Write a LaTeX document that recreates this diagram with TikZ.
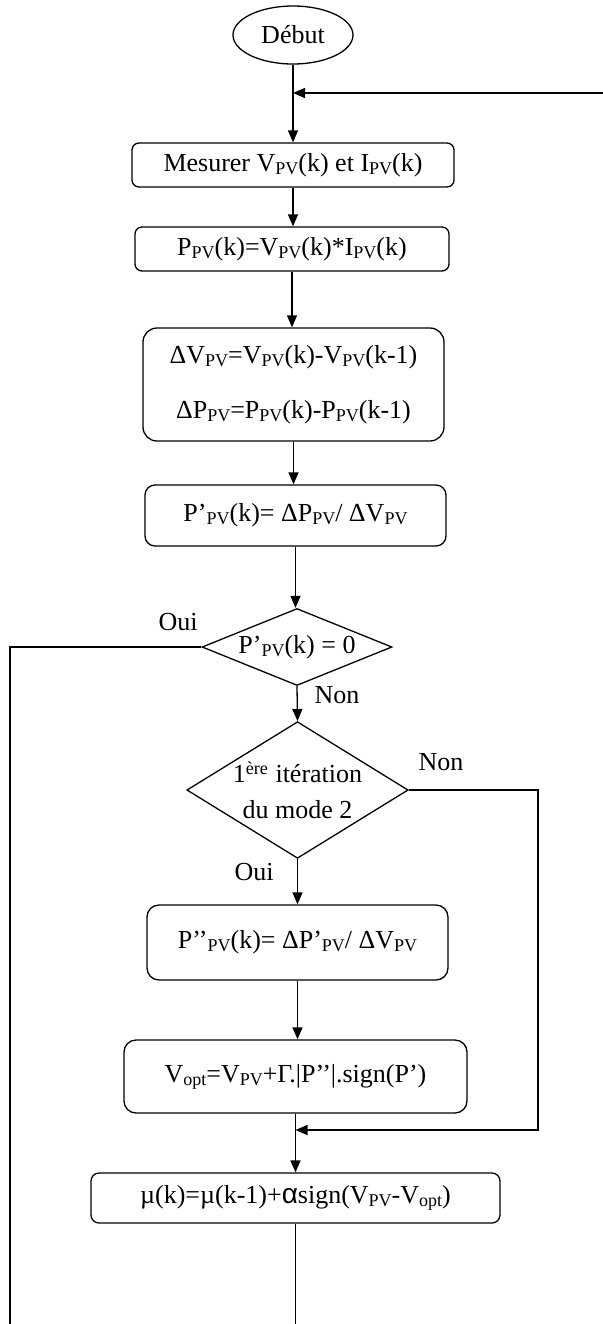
\documentclass[tikz,border=0pt]{standalone}
\usepackage{fontspec}
\setmainfont{Liberation Serif}
\newfontfamily\alphafont{Liberation Sans}
\usetikzlibrary{shapes.geometric,arrows.meta}
\newcommand{\sbt}[1]{\raisebox{-1.6pt}{\fontsize{9}{10}\selectfont #1}}
\begin{document}
\begin{tikzpicture}[x=0.5pt,y=-0.5pt,
  every node/.style={font=\fontsize{13}{15.6}\selectfont},
  box/.style={draw, rounded corners=3.5pt, line width=0.65pt, inner sep=0pt, align=center},
  dec/.style={draw, diamond, inner sep=0pt, line width=0.65pt, align=center},
  term/.style={draw, ellipse, inner sep=0pt, line width=0.65pt},
  arr/.style={-{Triangle[length=6pt,width=5pt]}, line width=0.65pt},
  ln/.style={line width=0.65pt},
  lbl/.style={inner sep=0pt}]
\useasboundingbox (0,0) rectangle (603,1324);

\node[term, minimum width=60pt, minimum height=29pt] (debut) at (293,35) {Début};
\node[box, minimum width=161pt, minimum height=22pt] (mes) at (293,165) {Mesurer V\sbt{PV}(k) et I\sbt{PV}(k)};
\node[box, minimum width=157pt, minimum height=22pt] (ppv) at (292,249) {P\sbt{PV}(k)=V\sbt{PV}(k)*I\sbt{PV}(k)};
\node[box, rounded corners=7pt, minimum width=150.5pt, minimum height=56.5pt] (dv) at (293.5,384.5)
  {ΔV\sbt{PV}=V\sbt{PV}(k)-V\sbt{PV}(k-1)\\[12pt]ΔP\sbt{PV}=P\sbt{PV}(k)-P\sbt{PV}(k-1)};
\node[box, rounded corners=5pt, minimum width=150.5pt, minimum height=30.5pt] (pp) at (295.5,515.5)
  {P’\sbt{PV}(k)= ΔP\sbt{PV}/ ΔV\sbt{PV}};
\node[dec, aspect=2.47, minimum width=95pt, minimum height=38.5pt] (d1) at (297,647) {P’\sbt{PV}(k) = 0};
\node[dec, aspect=1.62, minimum width=110.5pt, minimum height=68pt] (d2) at (297.5,790)
  {1\textsuperscript{ère} itération\\[2pt]du mode 2};
\node[box, rounded corners=6pt, minimum width=150.5pt, minimum height=37.5pt] (ppp) at (297.5,942.5)
  {P’’\sbt{PV}(k)= ΔP’\sbt{PV}/ ΔV\sbt{PV}};
\node[box, rounded corners=6pt, minimum width=171.5pt, minimum height=36.5pt] (vopt) at (295.5,1076.5)
  {V\sbt{opt}=V\sbt{PV}+Γ.|P’’|.sign(P’)};
\node[box, rounded corners=4pt, minimum width=204.5pt, minimum height=25pt] (mu) at (295.5,1198)
  {µ(k)=µ(k-1)+{\alphafont\fontsize{14}{15}\selectfont α}sign(V\sbt{PV}-V\sbt{opt})};

\node[lbl] (oui1) at (178,622) {Oui};
\node[lbl] (non1) at (337,695) {Non};
\node[lbl] (non2) at (441,762) {Non};
\node[lbl] (oui2) at (254,872) {Oui};

\coordinate (fbR) at (603,93);
\coordinate (fbJ) at (debut.south |- fbR);
\coordinate (lt) at (10,647);
\coordinate (lb) at (10,1324);
\coordinate (rt) at (538,790);
\coordinate (rb) at (538,1130);
\coordinate (mj) at (vopt.south |- rb);
\coordinate (mb) at (mu.south |- lb);

\draw[arr] (debut.south) -- (debut.south |- mes.north);
\draw[arr] (fbR) -- (fbJ);
\draw[arr] (mes.south) -- (mes.south |- ppv.north);
\draw[arr] (ppv.south) -- (ppv.south |- dv.north);
\draw[arr] (dv.south) -- (dv.south |- pp.north);
\draw[arr] (pp.south) -- (pp.south |- d1.north);
\draw[arr] (d1.south) -- (d2.north);
\draw[arr] (d2.south) -- (d2.south |- ppp.north);
\draw[arr] (ppp.south) -- (ppp.south |- vopt.north);
\draw[arr] (vopt.south) -- (vopt.south |- mu.north);
\draw[ln] (d1.west) -- (lt) -- (lb);
\draw[arr] (d2.east) -- (rt) -- (rb) -- (mj);
\draw[ln] (mu.south) -- (mb);
\end{tikzpicture}
\end{document}
